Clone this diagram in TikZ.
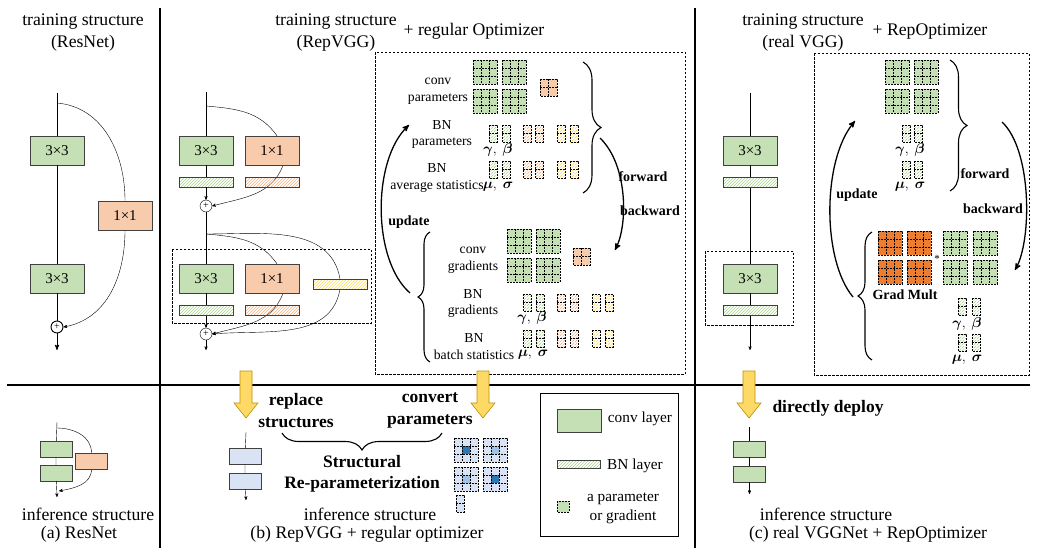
\documentclass[tikz,border=0pt]{standalone}
\usepackage{amsmath,amssymb,bm}
\usepackage{fontspec}
\setmainfont{Liberation Serif}
\usepackage{tikz}
\usetikzlibrary{arrows}
\usetikzlibrary{positioning}
\usetikzlibrary{calc}
\usetikzlibrary{patterns}
\usetikzlibrary{decorations.pathreplacing}
\usepackage{color}

\definecolor{convgreen}{HTML}{C5E0B4}
\definecolor{convorange}{HTML}{F8CBAD}
\definecolor{hatchgreen}{HTML}{A9D18E}
\definecolor{hatchorange}{HTML}{F4B183}
\definecolor{hatchyellow}{HTML}{FFD966}
\definecolor{gradorange}{HTML}{ED7D31}
\definecolor{infblue}{HTML}{DAE3F3}
\definecolor{darkblue}{HTML}{2E75B6}
\definecolor{lightblue}{HTML}{9DC3E6}
\definecolor{arrowgold}{HTML}{FFD966}
\definecolor{edgegold}{HTML}{BF9000}
\definecolor{boxgray}{HTML}{404040}

\pgfdeclarelayer{background}
\pgfsetlayers{background,main}

% kernels and BN parameters, x y = top left corner
\newcommand{\paramkernel}[3]{%
  \draw[kdash,fill=#3] (#1,#2) rectangle ++(24,24);
  \draw[kdash] (#1+8,#2) -- ++(0,24) (#1+16,#2) -- ++(0,24)
    (#1,#2+8) -- ++(24,0) (#1,#2+16) -- ++(24,0);}
\newcommand{\smallkernel}[3]{%
  \draw[kdash,fill=#3] (#1,#2) rectangle ++(17,17);
  \draw[kdash] (#1+8.5,#2) -- ++(0,17) (#1,#2+8.5) -- ++(17,0);}
\newcommand{\bnparam}[3]{%
  \draw[kdash,pattern=north east lines,pattern color=#3] (#1,#2) rectangle ++(8,17);
  \draw[kdash] (#1,#2+8.5) -- ++(8,0);}
\newcommand{\bluekernel}[3]{%
  \draw[kdash,fill=infblue] (#1,#2) rectangle ++(24,24);
  \fill[#3] (#1+8,#2+8) rectangle ++(8,8);
  \draw[kdash] (#1+8,#2) -- ++(0,24) (#1+16,#2) -- ++(0,24)
    (#1,#2+8) -- ++(24,0) (#1,#2+16) -- ++(24,0);}

\begin{document}
\begin{tikzpicture}[x=1pt,y=-1pt,>=stealth',line width=0.9pt,
  convbox/.style={draw=boxgray,fill=convgreen,minimum width=54pt,minimum height=29pt,inner sep=0pt,font=\fontsize{15}{15}\selectfont},
  resbox/.style={convbox,fill=convorange},
  bnbox/.style={draw=boxgray,minimum width=54pt,minimum height=10pt,inner sep=0pt,pattern=north east lines,pattern color=#1},
  smallbox/.style={draw=boxgray,minimum width=32pt,minimum height=16pt,inner sep=0pt,fill=#1},
  plusnode/.style={circle,draw,fill=white,minimum size=12pt,inner sep=0pt,font=\fontsize{10}{10}\selectfont},
  lbl/.style={font=\fontsize{17.7}{22}\selectfont,align=center,inner sep=0pt},
  boldlbl/.style={font=\fontsize{17.5}{21.5}\selectfont\bfseries,align=center,inner sep=0pt},
  smalllbl/.style={font=\fontsize{13.7}{16.5}\selectfont,align=center,inner sep=0pt},
  legend/.style={font=\fontsize{15.3}{19}\selectfont,align=center,inner sep=0pt},
  flow/.style={font=\fontsize{14}{16}\selectfont\bfseries,inner sep=0pt},
  greek/.style={font=\fontsize{14}{16}\selectfont,inner sep=0pt},
  dashbox/.style={draw,dash pattern=on 2.5pt off 1.5pt,line width=0.8pt},
  kdash/.style={dash pattern=on 2pt off 1pt,line width=0.75pt},
  bigarc/.style={->,line width=1.3pt},
  curly/.style={decorate,decoration={brace,amplitude=#1},line width=1.1pt},
  divider/.style={line width=1.8pt},
  deploy/.style={draw=edgegold,fill=arrowgold,line width=0.6pt}]

\useasboundingbox (0,0) rectangle (1040,554);

% panels
\draw[divider] (160,8) -- (160,548);
\draw[divider] (695,8) -- (695,548);
\draw[divider] (7,385) -- (1030,385);

% titles
\node[lbl] (a title) at (83,33) {training structure\\(ResNet)};
\node[lbl] (b title) at (336,33) {training structure\\(RepVGG)};
\node[lbl] (b opt) at (474,31) {+ regular Optimizer};
\node[lbl] (c title) at (803,33) {training structure\\(real VGG)};
\node[lbl] (c opt) at (930,32) {+ RepOptimizer};

% (a) ResNet training
\coordinate (a in) at (57,93);
\coordinate (a split) at (57,103);
\node[convbox] (a conv1) at (57,150.5) {3×3};
\node[resbox] (a res) at (125,215.5) {1×1};
\node[convbox] (a conv2) at (57,278.5) {3×3};
\node[plusnode] (a plus) at (57,327) {+};
\coordinate (a out) at (57,350);
\draw (a in) -- (a conv1) -- (a conv2) -- (a plus);
\draw[->] (a plus) -- (a out);
\begin{pgfonlayer}{background}
\draw (a split) to[out=-5,in=90] (a res.north);
\draw[->] (a res.south) to[out=-90,in=10] (a plus.east);
\end{pgfonlayer}

% (b) RepVGG training
\coordinate (b in) at (206,92);
\coordinate (b split1) at (206,106);
\node[convbox] (b conv1) at (206,150.5) {3×3};
\node[resbox] (b res1) at (272,150.5) {1×1};
\node[bnbox=hatchgreen] (b bn1) at (206,182) {};
\node[bnbox=hatchorange] (b bnres1) at (272,182) {};
\node[plusnode] (b plus1) at (206,206) {+};
\coordinate (b split2) at (206,234);
\node[convbox] (b conv2) at (206,278.5) {3×3};
\node[resbox] (b res2) at (272,278.5) {1×1};
\node[bnbox=hatchyellow] (b bnid) at (340,284) {};
\node[bnbox=hatchgreen] (b bn2) at (206,310.5) {};
\node[bnbox=hatchorange] (b bnres2) at (272,310.5) {};
\node[plusnode] (b plus2) at (206,334) {+};
\coordinate (b out) at (206,350);
\draw (b in) -- (b conv1) -- (b bn1);
\draw[->] (b bn1) -- (b plus1);
\draw (b plus1) -- (b conv2) -- (b bn2);
\draw[->] (b bn2) -- (b plus2);
\draw[->] (b plus2) -- (b out);
\begin{pgfonlayer}{background}
\draw (b split1) to[out=-5,in=125] ([xshift=5pt]b res1.north);
\draw[->] ([xshift=11pt]b res1.south) to[out=-110,in=15] (b plus1.east);
\draw (b split2) to[out=-5,in=125] ([xshift=5pt]b res2.north);
\draw (b split2) to[out=0,in=100] (b bnid.north);
\draw[->] ([xshift=11pt]b res2.south) to[out=-110,in=15] (b plus2.east);
\draw[->] (b bnid.south) to[out=-100,in=5] (b plus2.east);
\end{pgfonlayer}
\draw[dashbox] (172,249) rectangle (371,323);

% (b) regular optimizer
\draw[dashbox] (375,52) rectangle (685,374);
\foreach \kx in {473,502} \foreach \ky in {60,89} {\paramkernel{\kx}{\ky}{convgreen}}
\smallkernel{540}{79}{convorange}
\foreach \px/\pc in {489/hatchgreen,502/hatchgreen,523/hatchorange,535/hatchorange,557/hatchyellow,570/hatchyellow}
  \foreach \py in {125,161} {\bnparam{\px}{\py}{\pc}}
\node[smalllbl] (b convp) at (438,91) {conv\\parameters};
\node[smalllbl] (b bnp) at (442,134.5) {BN\\parameters};
\node[smalllbl] (b bnavg) at (437,178) {BN\\average statistics};
\node[greek] (b gb1) at (498,150) {$\bm{\gamma},\ \bm{\beta}$};
\node[greek] (b ms1) at (498,187) {$\bm{\mu},\ \bm{\sigma}$};
\foreach \kx in {507,536} \foreach \ky in {229,258} {\paramkernel{\kx}{\ky}{convgreen}}
\smallkernel{573}{248}{convorange}
\foreach \px/\pc in {523/hatchgreen,536/hatchgreen,557/hatchorange,570/hatchorange,592/hatchyellow,605/hatchyellow}
  \foreach \py in {294,330} {\bnparam{\px}{\py}{\pc}}
\node[smalllbl] (b convg) at (473,260) {conv\\gradients};
\node[smalllbl] (b bng) at (473,303.5) {BN\\gradients};
\node[smalllbl] (b bnbatch) at (474,346.5) {BN\\batch statistics};
\node[greek] (b gb2) at (532,318) {$\bm{\gamma},\ \bm{\beta}$};
\node[greek] (b ms2) at (533,355) {$\bm{\mu},\ \bm{\sigma}$};
\draw[curly=18pt] (583,62) -- (583,193);
\draw[curly=12pt] (430,362) -- (430,232);
\coordinate (b fw start) at (600,138);
\coordinate (b fw end) at (615,250);
\draw[bigarc] (b fw start) .. controls (628,165) and (628,225) .. (b fw end);
\node[flow] (b fw) at (643,177) {forward};
\node[flow] (b bw) at (650,211) {backward};
\coordinate (b up start) at (410,293);
\coordinate (b up end) at (409,125);
\draw[bigarc] (b up start) .. controls (372,260) and (372,160) .. (b up end);
\node[flow] (b up) at (409,222) {update};

% (c) real VGG training
\coordinate (c in) at (750,93);
\node[convbox] (c conv1) at (750,150.5) {3×3};
\node[bnbox=hatchgreen] (c bn1) at (750,182.5) {};
\node[convbox] (c conv2) at (750,278.5) {3×3};
\node[bnbox=hatchgreen] (c bn2) at (750,310.5) {};
\coordinate (c out) at (750,350);
\draw (c in) -- (c conv1) -- (c bn1) -- (c conv2) -- (c bn2);
\draw[->] (c bn2) -- (c out);
\draw[dashbox] (705,251) rectangle (793,325);

% (c) RepOptimizer
\draw[dashbox] (814,53) rectangle (1029,375);
\foreach \kx in {885,914} \foreach \ky in {60,89} {\paramkernel{\kx}{\ky}{convgreen}}
\foreach \px in {902,914} \foreach \py in {125,161} {\bnparam{\px}{\py}{hatchgreen}}
\node[greek] (c gb1) at (910,150) {$\bm{\gamma},\ \bm{\beta}$};
\node[greek] (c ms1) at (910,187) {$\bm{\mu},\ \bm{\sigma}$};
\foreach \kx in {878,907} \foreach \ky in {231,260} {\paramkernel{\kx}{\ky}{gradorange}}
\foreach \kx in {943,973} \foreach \ky in {231,260} {\paramkernel{\kx}{\ky}{convgreen}}
\node[font=\fontsize{11}{11}\selectfont,inner sep=0pt] (c star) at (937,259) {*};
\node[flow] (c mult) at (905,295) {Grad Mult};
\foreach \px in {958,972} \foreach \py in {298,334} {\bnparam{\px}{\py}{hatchgreen}}
\node[greek] (c gb2) at (967,324) {$\bm{\gamma},\ \bm{\beta}$};
\node[greek] (c ms2) at (967,360) {$\bm{\mu},\ \bm{\sigma}$};
\draw[curly=17pt] (950,60) -- (950,191);
\draw[curly=14pt] (872,360) -- (872,232);
\coordinate (c fw start) at (1002,122);
\coordinate (c fw end) at (1015,270);
\draw[bigarc] (c fw start) .. controls (1032,150) and (1032,240) .. (c fw end);
\node[flow] (c fw) at (985,174) {forward};
\node[flow] (c bw) at (993,209) {backward};
\coordinate (c up start) at (853,297);
\coordinate (c up end) at (855,121);
\draw[bigarc] (c up start) .. controls (822,260) and (822,160) .. (c up end);
\node[flow] (c up) at (857,195) {update};

% yellow arrows
\foreach \ax in {246,483,749}
  \draw[deploy] (\ax-6,371) -- (\ax+6,371) -- (\ax+6,403) -- (\ax+12,403) -- (\ax,418)
    -- (\ax-12,403) -- (\ax-6,403) -- cycle;

% (a) inference
\coordinate (a iin) at (57,422);
\coordinate (a isplit) at (57,428);
\node[smallbox=convgreen] (a iconv1) at (56,449) {};
\node[smallbox=convgreen] (a iconv2) at (56,473) {};
\node[smallbox=convorange] (a ires) at (91.5,461) {};
\coordinate (a imerge) at (59,491);
\coordinate (a iout) at (57,497);
\draw (a iin) -- (a iconv1) -- (a iconv2);
\draw[->] (a iconv2) -- (a iout);
\begin{pgfonlayer}{background}
\draw (a isplit) to[out=0,in=90] (a ires.north);
\draw[->] (a ires.south) to[out=-90,in=10] (a imerge);
\end{pgfonlayer}
\node[lbl] (a cap1) at (88,514) {inference structure};
\node[lbl] (a cap2) at (79,534) {(a) ResNet};

% (b) inference
\coordinate (b iin) at (246,432);
\node[smallbox=infblue] (b iconv1) at (245,456) {};
\node[smallbox=infblue] (b iconv2) at (245,481) {};
\coordinate (b iout) at (246,500);
\draw (b iin) -- (b iconv1) -- (b iconv2);
\draw[->] (b iconv2) -- (b iout);
\node[boldlbl] (b replace) at (296,410.5) {replace\\structures};
\node[boldlbl] (b convert) at (430,410.5) {convert\\parameters};
\draw[curly=17pt] (442,433) -- (282,433);
\node[boldlbl] (b srep) at (362,474) {Structural\\Re-parameterization};
\bluekernel{454}{438}{darkblue}
\bluekernel{483}{438}{lightblue}
\bluekernel{454}{467}{lightblue}
\bluekernel{483}{467}{darkblue}
\draw[kdash,fill=infblue] (456,495) rectangle ++(8,17);
\draw[kdash] (456,503.5) -- ++(8,0);
\node[lbl] (b cap1) at (370,514) {inference structure};
\node[lbl] (b cap2) at (367,534) {(b) RepVGG + regular optimizer};

% legend
\draw[line width=1pt] (540,393) rectangle (678,536);
\node[draw=boxgray,fill=convgreen,minimum width=44pt,minimum height=23pt,inner sep=0pt] (l conv) at (579,420.5) {};
\node[legend] (l convtxt) at (640,419) {conv layer};
\node[bnbox=hatchgreen,minimum width=43pt,minimum height=8pt] (l bn) at (578.5,464) {};
\node[legend] (l bntxt) at (635,466) {BN layer};
\draw[kdash,fill=convgreen] (557,501) rectangle ++(12,11);
\node[legend] (l paramtxt) at (623,508.5) {a parameter\\or gradient};

% (c) inference
\node[boldlbl] (c deploy) at (828,408) {directly deploy};
\coordinate (c iin) at (749.5,427);
\node[smallbox=convgreen] (c iconv1) at (749.5,449) {};
\node[smallbox=convgreen] (c iconv2) at (749.5,474) {};
\coordinate (c iout) at (749.5,494);
\draw (c iin) -- (c iconv1) -- (c iconv2);
\draw[->] (c iconv2) -- (c iout);
\node[lbl] (c cap1) at (826,514) {inference structure};
\node[lbl] (c cap2) at (868,534) {(c) real VGGNet + RepOptimizer};
\end{tikzpicture}
\end{document}
